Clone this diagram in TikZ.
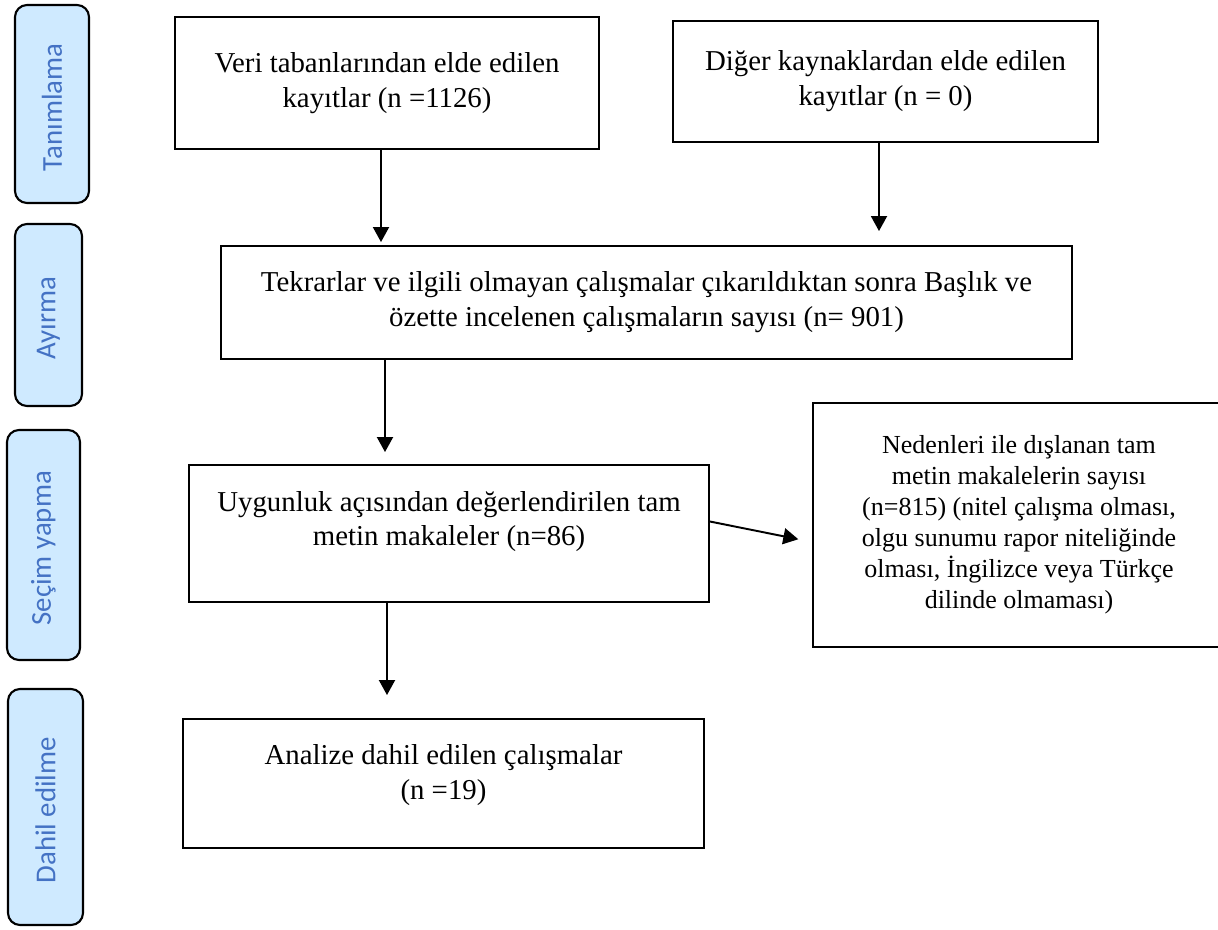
\documentclass[tikz,border=0pt]{standalone}
\usepackage{fontspec}
\setmainfont{Liberation Serif}
\newfontfamily\calibrifont{Carlito}
\usetikzlibrary{positioning}
\usetikzlibrary{arrows.meta}
\definecolor{sidefill}{RGB}{207,234,255}
\definecolor{sidetext}{RGB}{68,114,196}
\tikzset {
        recnode/.style={align=center,inner sep=0pt, rectangle, draw, line width=1.1pt, font={\fontsize{16.4}{19.9}\selectfont}},
        sidenode/.style={align=center,inner sep=0pt, rectangle, rounded corners=2.4mm, draw, line width=1.2pt, fill=sidefill, text=sidetext, rotate=90, font={\calibrifont\fontsize{16.4}{19}\selectfont}},
        arrowline/.style={-{Triangle[length=3mm,width=3.2mm]}, line width=1.1pt}
}

\begin{document}
\begin{tikzpicture}
            \useasboundingbox (0,0) rectangle (24.36,-18.58);

            % phase tags on the left
            \node[sidenode, minimum width=3.96cm, minimum height=1.48cm] (IdentTag) at (1.04,-2.08) {
                Tanımlama
            };
            \node[sidenode, minimum width=3.64cm, minimum height=1.34cm] (ScreenTag) at (0.97,-6.3) {
                Ayırma
            };
            \node[sidenode, minimum width=4.6cm, minimum height=1.46cm] (EligTag) at (0.87,-10.9) {
                Seçim yapma
            };
            \node[sidenode, minimum width=4.72cm, minimum height=1.5cm] (InclTag) at (0.91,-16.14) {
                Dahil edilme
            };

            % flow boxes
            \node[recnode, minimum width=8.48cm, minimum height=2.64cm] (DatabaseRecords) at (7.74,-1.66) {
                Veri tabanlarından elde edilen\\kayıtlar (n =1126)
            };
            \node[recnode, minimum width=8.5cm, minimum height=2.42cm] (OtherRecords) at (17.71,-1.63) {
                Diğer kaynaklardan elde edilen\\kayıtlar (n = 0)
            };
            \node[recnode, minimum width=17.02cm, minimum height=2.26cm] (ScreenedRecords) at (12.93,-6.05) {
                Tekrarlar ve ilgili olmayan çalışmalar çıkarıldıktan sonra Başlık ve\\özette incelenen çalışmaların sayısı (n= 901)
            };
            \node[recnode, minimum width=10.4cm, minimum height=2.74cm, text depth=6mm] (FullText) at (8.98,-10.67) {
                Uygunluk açısından değerlendirilen tam\\metin makaleler (n=86)
            };
            \node[recnode, minimum width=8.24cm, minimum height=4.88cm, font={\fontsize{14.8}{17.6}\selectfont}] (Excluded) at (20.38,-10.5) {
                Nedenleri ile dışlanan tam\\metin makalelerin sayısı\\(n=815) (nitel çalışma olması,\\olgu sunumu rapor niteliğinde\\olması, İngilizce veya Türkçe\\dilinde olmaması)
            };
            \node[recnode, minimum width=10.42cm, minimum height=2.58cm, text depth=4.5mm] (Included) at (8.87,-15.67) {
                Analize dahil edilen çalışmalar\\(n =19)
            };

            \draw[arrowline, shorten >=0.6mm] ([xshift=-1.2mm]DatabaseRecords.south) -- ([xshift=-1.2mm]DatabaseRecords.south |- ScreenedRecords.north);
            \draw[arrowline, shorten >=2.8mm] ([xshift=-1.3mm]OtherRecords.south) -- ([xshift=-1.3mm]OtherRecords.south |- ScreenedRecords.north);
            \draw[arrowline, shorten >=2.4mm] ([xshift=-12.8mm]FullText.north |- ScreenedRecords.south) -- ([xshift=-12.8mm]FullText.north);
            \draw[arrowline, shorten >=4.6mm] ([xshift=-12.4mm]FullText.south) -- ([xshift=-12.4mm]FullText.south |- Included.north);
            \draw[arrowline, shorten >=2.8mm] ([yshift=2.4mm]FullText.east) -- ([yshift=-3.4mm]Excluded.west);
\end{tikzpicture}
\end{document}
